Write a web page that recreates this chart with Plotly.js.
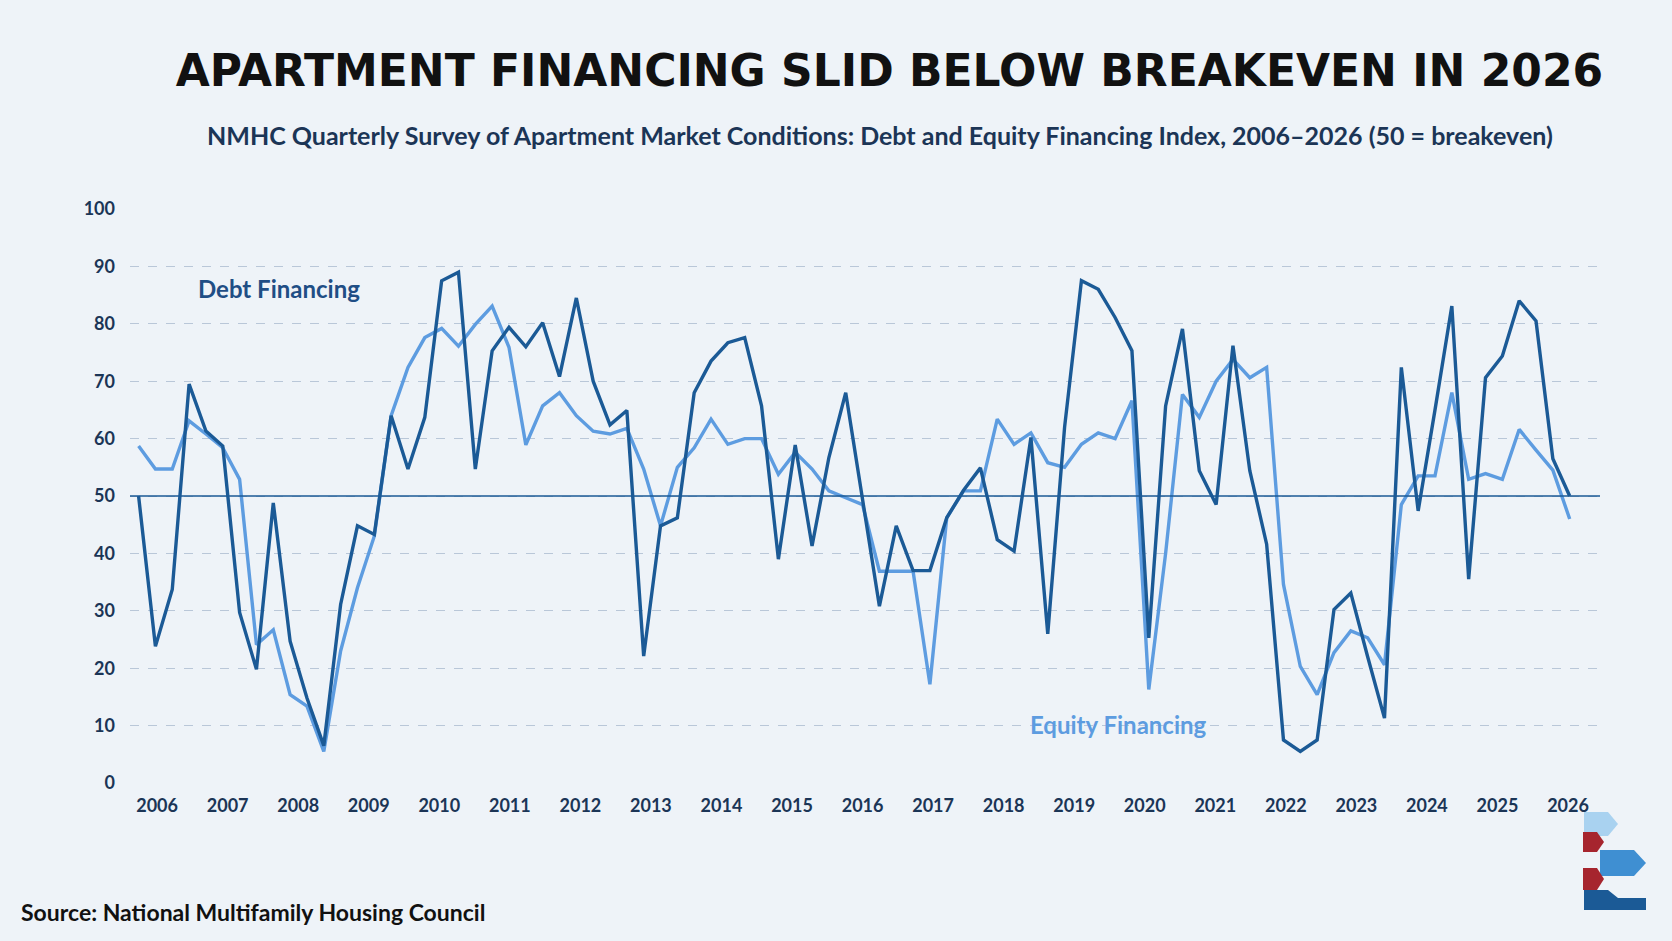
<!DOCTYPE html>
<html>
<head>
<meta charset="utf-8">
<script src="https://cdn.plot.ly/plotly-3.0.1.min.js"></script>
<style>
  html, body { margin: 0; padding: 0; background: #eef3f8; }
  #chart { width: 1672px; height: 941px; }
</style>
</head>
<body>
<div id="chart"></div>
<script>
// quarterly readings (index 0 = first survey point)
const debtFinancing = [
  50, 23.8, 33.7, 69.5, 61.3, 58.7, 29.7, 19.8, 48.8, 24.7,
  14.8, 6.5, 31.1, 44.8, 43.3, 64, 54.7, 63.7, 87.5, 89,
  54.7, 75.3, 79.4, 76, 80.2, 70.8, 84.5, 70, 62.4, 64.9,
  22.1, 44.8, 46.2, 68, 73.5, 76.7, 77.6, 65.7, 39, 58.9,
  41.3, 56.7, 68, 49, 30.8, 44.8, 37, 37, 46.2, 51,
  54.9, 42.4, 40.4, 60.2, 26, 62, 87.5, 86, 81.1, 75.3,
  25.3, 65.7, 79.1, 54.4, 48.5, 76.2, 54.4, 41.6, 7.5, 5.5,
  7.5, 30.2, 33.1, 22, 11.3, 72.4, 47.4, 65, 83.1, 35.5,
  70.6, 74.4, 84, 80.5, 56.5, 50
];
const equityFinancing = [
  58.7, 54.7, 54.7, 63.1, 60.8, 58.4, 52.9, 24.1, 26.7, 15.4,
  13.4, 5.5, 23, 34, 43, 64, 72.4, 77.6, 79.2, 76.1,
  79.9, 83.1, 75.9, 58.9, 65.7, 68, 64, 61.3, 60.8, 61.8,
  54.7, 44.8, 55, 58.4, 63.4, 59, 60, 60, 53.8, 57.6,
  54.7, 50.9, 49.7, 48.5, 36.9, 36.9, 36.9, 17.2, 46.2, 50.9,
  50.9, 63.4, 59, 61, 55.8, 55, 59, 61, 60, 66.6,
  16.3, 40, 67.7, 63.7, 70, 73.8, 70.6, 72.4, 34.6, 20.3,
  15.4, 22.7, 26.5, 25.3, 20.6, 48.5, 53.5, 53.5, 68, 52.9,
  53.9, 52.9, 61.6, 58, 54.5, 46
];
const yearLabels = ['2006','2007','2008','2009','2010','2011','2012','2013','2014','2015',
  '2016','2017','2018','2019','2020','2021','2022','2023','2024','2025','2026'];

const quarterIdx = debtFinancing.map((_, i) => i);
// year labels sit about 4.19 points apart, the first just after index 1
const yearTickPos = yearLabels.map((_, k) => 1.1 + 4.19 * k);

const navy = '#1b3556';
const darkBlue = '#1b5a96';
const lightBlue = '#5d9ce0';

// pixel -> paper helpers (plot area 130..1600 x, 209..783 y)
const L = 130, R = 1600, T = 209, B = 783;
const px = v => (v - L) / (R - L);
const py = v => (B - v) / (B - T);

function poly(points, color) {
  let d = points.map((p, i) => (i ? 'L' : 'M') + px(p[0]) + ',' + py(p[1])).join(' ') + ' Z';
  return { type: 'path', xref: 'paper', yref: 'paper', path: d, fillcolor: color, line: { width: 0 } };
}

const shapes = [
  { type: 'line', xref: 'paper', x0: 0, x1: 1, yref: 'y', y0: 50, y1: 50,
    line: { color: darkBlue, width: 1.6 } },
  // logo, bottom right
  poly([[1584,812],[1608,812],[1618,824],[1608,836],[1584,836]], '#a9d2f0'),
  poly([[1600,850],[1634,850],[1646,863],[1634,876],[1600,876]], '#3f8fd2'),
  poly([[1584,890],[1608,890],[1618,898],[1646,898],[1646,910],[1584,910]], '#1b5a96'),
  poly([[1583,832],[1597,832],[1604,842],[1597,852],[1583,852]], '#a6252e'),
  poly([[1583,868],[1597,868],[1604,879],[1597,890],[1583,890]], '#a6252e')
];

const traces = [
  { x: quarterIdx, y: equityFinancing, type: 'scatter', mode: 'lines', name: 'Equity Financing',
    line: { color: lightBlue, width: 3.4 }, hoverinfo: 'y' },
  { x: quarterIdx, y: debtFinancing, type: 'scatter', mode: 'lines', name: 'Debt Financing',
    line: { color: darkBlue, width: 3.4 }, hoverinfo: 'y' }
];

const layout = {
  width: 1672, height: 941,
  margin: { l: L, r: 1672 - R, t: T, b: 941 - B },
  paper_bgcolor: '#eef3f8',
  plot_bgcolor: 'rgba(0,0,0,0)',
  showlegend: false,
  font: { family: 'Lato, "Open Sans", sans-serif', color: navy },
  title: {
    text: 'APARTMENT FINANCING SLID BELOW BREAKEVEN IN 2026',
    x: 0.532, xanchor: 'center', y: 0.925, yanchor: 'middle',
    font: { family: '"DejaVu Sans", sans-serif', size: 44, color: '#111111', weight: 'bold' }
  },
  xaxis: {
    range: [-0.51, 86.8],
    tickmode: 'array', tickvals: yearTickPos, ticktext: yearLabels,
    showgrid: false, zeroline: false, showline: false, ticks: '', ticklabelstandoff: 10,
    tickfont: { size: 18, color: navy, weight: 'bold' }
  },
  yaxis: {
    range: [0, 100], tickvals: [0,10,20,30,40,50,60,70,80,90,100],
    showgrid: true, gridcolor: '#b9c7d8', griddash: 'dash', gridwidth: 1,
    zeroline: false, showline: false, ticks: '', ticklabelstandoff: 14,
    tickfont: { size: 18, color: navy, weight: 'bold' }
  },
  shapes: shapes,
  annotations: [
    { xref: 'paper', yref: 'paper', x: px(880), y: py(135), xanchor: 'center', yanchor: 'middle',
      text: 'NMHC Quarterly Survey of Apartment Market Conditions: Debt and Equity Financing Index, 2006–2026 (50 = breakeven)',
      showarrow: false, font: { size: 25, color: navy, weight: 'bold' } },
    { xref: 'paper', yref: 'paper', x: px(279), y: py(288), xanchor: 'center', yanchor: 'middle',
      text: 'Debt Financing', showarrow: false, font: { size: 24, color: '#1f4e85', weight: 'bold' } },
    { xref: 'paper', yref: 'paper', x: px(1118), y: py(724), xanchor: 'center', yanchor: 'middle',
      text: 'Equity Financing', showarrow: false, font: { size: 24, color: lightBlue, weight: 'bold' } },
    { xref: 'paper', yref: 'paper', x: px(19), y: py(912), xanchor: 'left', yanchor: 'middle',
      text: 'Source: National Multifamily Housing Council', showarrow: false,
      font: { size: 23, color: '#111111', weight: 'bold' } }
  ]
};

Plotly.newPlot('chart', traces, layout, { displayModeBar: false, staticPlot: true });
</script>
</body>
</html>
